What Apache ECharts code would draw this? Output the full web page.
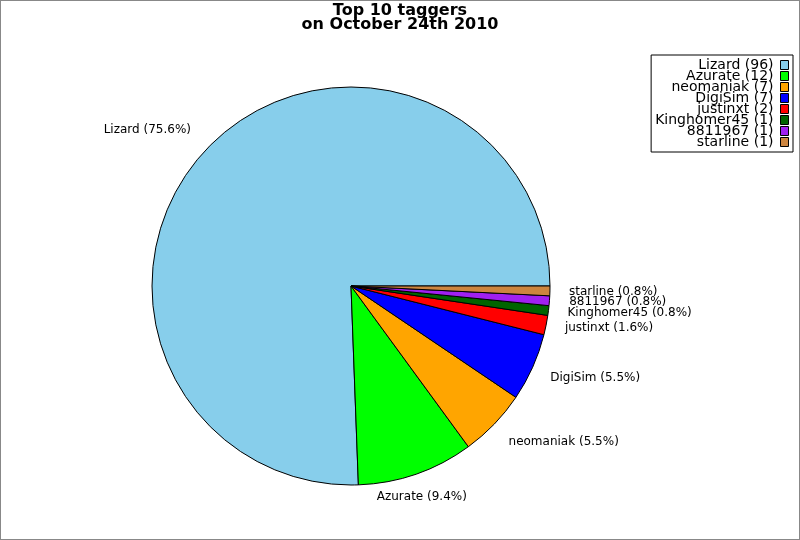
<!DOCTYPE html>
<html>
<head>
<meta charset="utf-8">
<script src="https://cdn.jsdelivr.net/npm/echarts@6/dist/echarts.min.js"></script>
<style>
  html, body { margin: 0; padding: 0; background: #fff; }
  #main { width: 798px; height: 538px; border: 1px solid #888; }
</style>
</head>
<body>
<div id="main"></div>
<script>
// 数据
let names = ['Lizard', 'Azurate', 'neomaniak', 'DigiSim', 'justinxt', 'Kinghomer45', '8811967', 'starline']
let counts = [96, 12, 7, 7, 2, 1, 1, 1]
let colors = ['#87ceeb', '#00ff00', '#ffa500', '#0000ff', '#ff0000', '#006400', '#a020f0', '#cd853f']

let total = counts.reduce((a, b) => a + b, 0)
let pieData = names.map((n, i) => ({
    name: n,
    value: counts[i],
    itemStyle: { color: colors[i] }
}))

// 标签微调 (dx, dy)
let labelShift = {
    1: [-46, -2],
    2: [-4, 0],
    3: [-6, 0],
    4: [-6, -6],
    5: [-6, -7],
    6: [-6, -4],
    7: [-7, 0]
}

let myChart = echarts.init(document.getElementById('main'))
let font = 'DejaVu Sans'
let option = {
    animation: false,
    title: {
        text: 'Top 10 taggers\non October 24th 2010',
        left: 'center',
        top: 0,
        padding: [3, 5],
        textStyle: { fontFamily: font, fontSize: 16, fontWeight: 'bold', color: '#000', lineHeight: 14 }
    },
    legend: {
        orient: 'vertical',
        right: 6,
        top: 54,
        align: 'right',
        itemGap: -3,
        itemWidth: 8,
        itemHeight: 9,
        padding: [3, 4, 3, 4],
        borderColor: '#000',
        borderWidth: 1,
        icon: 'rect',
        itemStyle: { borderColor: '#000', borderWidth: 1 },
        textStyle: { fontFamily: font, fontSize: 14, color: '#000', lineHeight: 11, padding: [0, 2, 0, 0] },
        formatter: function (name) {
            let i = names.indexOf(name)
            return name + ' (' + counts[i] + ')'
        },
        data: names
    },
    series: [{
        type: 'pie',
        center: [350, 285],
        radius: 199,
        startAngle: 0,
        clockwise: false,
        avoidLabelOverlap: true,
        itemStyle: { borderColor: '#000', borderWidth: 1 },
        label: {
            show: true,
            position: 'outside',
            distanceToLabelLine: -2,
            fontFamily: font,
            fontSize: 12,
            lineHeight: 11,
            color: '#000',
            formatter: function (p) {
                return p.name + ' (' + (p.value / total * 100).toFixed(1) + '%)'
            }
        },
        labelLine: { show: false, length: 26, length2: 0 },
        labelLayout: function (params) {
            let s = labelShift[params.dataIndex]
            if (s) {
                return { dx: s[0], dy: s[1] }
            }
            return {}
        },
        emphasis: { disabled: true },
        data: pieData
    }]
}
myChart.setOption(option)
</script>
</body>
</html>
